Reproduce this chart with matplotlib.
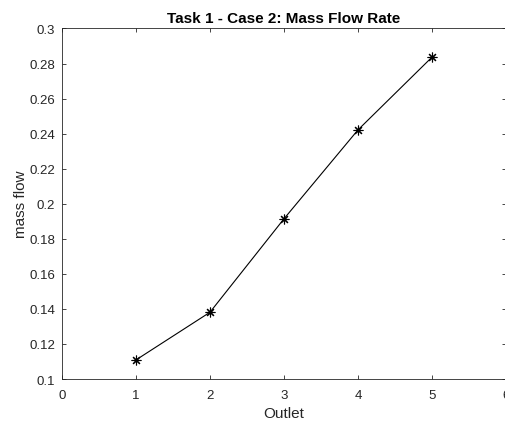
import numpy as np
import matplotlib.pyplot as plt

plt.rcParams['font.family'] = ['Liberation Sans', 'DejaVu Sans']

# data
outlet = [1, 2, 3, 4, 5]
mass_flow = [0.1109, 0.1381, 0.1914, 0.2421, 0.2836]
x_ticks = [0, 1, 2, 3, 4, 5, 6]
y_ticks = [0.1, 0.12, 0.14, 0.16, 0.18, 0.2, 0.22, 0.24, 0.26, 0.28, 0.3]
y_labels = ['0.1', '0.12', '0.14', '0.16', '0.18', '0.2',
            '0.22', '0.24', '0.26', '0.28', '0.3']

fig = plt.figure(figsize=(5.05, 4.27), dpi=100)
ax = fig.add_axes([0.1228, 0.110, 0.879, 0.821])

# matlab-style '*' marker: 8 spokes
ax.plot(outlet, mass_flow, color='black', linewidth=0.8,
        marker=(8, 2, 0), markersize=7, markeredgewidth=0.8)

ax.set_xlim(0, 6)
ax.set_ylim(0.1, 0.3)
ax.set_xticks(x_ticks)
ax.set_yticks(y_ticks)
ax.set_yticklabels(y_labels)

gray = '#262626'
ax.tick_params(direction='in', top=True, right=True, length=3,
               width=0.6, labelsize=9.5, colors=gray)
ax.tick_params(axis='x', pad=7)
ax.tick_params(axis='y', pad=5)
for s in ax.spines.values():
    s.set_color(gray)
    s.set_linewidth(0.6)

ax.set_title('Task 1 - Case 2: Mass Flow Rate', fontsize=11, fontweight='bold', pad=5)
ax.set_xlabel('Outlet', fontsize=11, color=gray, labelpad=4)
ax.set_ylabel('mass flow', fontsize=11, color=gray, labelpad=1)

fig.savefig('out.png', dpi=100)
